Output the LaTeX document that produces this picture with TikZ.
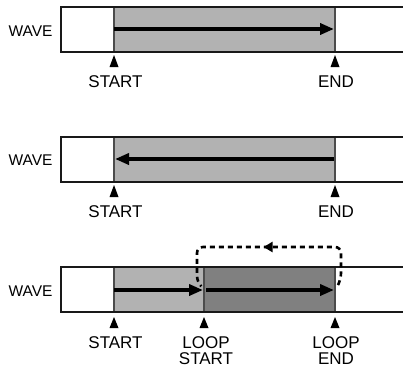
\documentclass[tikz,border=0pt]{standalone}
\usepackage{fontspec}
\setmainfont{Liberation Sans}
\usetikzlibrary{positioning, arrows.meta, decorations.markings}
\tikzset{
  wavebox/.style={draw=black!90, line width=2pt},
  divider/.style={draw=black!70, line width=1.2pt},
  flow/.style={line width=3.6pt, -{Triangle[length=14pt, width=11pt]}},
  loopline/.style={line width=2.6pt, dash pattern=on 5pt off 4pt, rounded corners=6pt,
    postaction={decorate}, decoration={markings,
      mark=at position 0.52 with {\arrow{Triangle[length=9pt, width=10pt]}}}},
  marker/.style={fill=black},
  lbl/.style={font=\fontsize{17}{16}\selectfont, align=center, inner sep=0pt},
  rowname/.style={font=\fontsize{15.5}{16}\selectfont, inner sep=0pt},
}

\begin{document}
\begin{tikzpicture}[x=1pt, y=-1pt]
  \useasboundingbox (0,0) rectangle (403,367);
  % forward play
  \fill[black!30] (114,7) rectangle (335,52);
  \draw[divider] (114,7) -- (114,52) (335,7) -- (335,52);
  \draw[wavebox] (403,7) -- (61,7) -- (61,52) -- (403,52);
  \node[rowname] (wave1) at (30.5,31) {WAVE};
  \coordinate (s1) at (114,29);
  \coordinate (e1) at (334,29);
  \draw[flow] (s1) -- (e1);
  \fill[marker] (114,55) -- (109.5,67) -- (118.5,67) -- cycle;
  \fill[marker] (335,55) -- (330.5,67) -- (339.5,67) -- cycle;
  \node[lbl] (start1) at (115.5,82) {START};
  \node[lbl] (end1) at (336,82) {END};

  % reverse play
  \fill[black!30] (114,137) rectangle (335,182);
  \draw[divider] (114,137) -- (114,182) (335,137) -- (335,182);
  \draw[wavebox] (403,137) -- (61,137) -- (61,182) -- (403,182);
  \node[rowname] (wave2) at (30.5,160) {WAVE};
  \coordinate (s2) at (115,159);
  \coordinate (e2) at (334,159);
  \draw[flow] (e2) -- (s2);
  \fill[marker] (114,185) -- (109.5,197) -- (118.5,197) -- cycle;
  \fill[marker] (335,185) -- (330.5,197) -- (339.5,197) -- cycle;
  \node[lbl] (start2) at (115.5,212) {START};
  \node[lbl] (end2) at (336,212) {END};

  % loop play
  \fill[black!30] (114,267) rectangle (204,312);
  \fill[black!50] (204,267) rectangle (335,312);
  \draw[divider] (114,267) -- (114,312) (204,267) -- (204,312) (335,267) -- (335,312);
  \draw[wavebox] (403,267) -- (61,267) -- (61,312) -- (403,312);
  \node[rowname] (wave3) at (30.5,291) {WAVE};
  \coordinate (s3) at (114,290);
  \coordinate (ls3) at (203,290);
  \coordinate (ls3b) at (206,290);
  \coordinate (le3) at (334,290);
  \draw[flow] (s3) -- (ls3);
  \draw[flow] (ls3b) -- (le3);
  \coordinate (back1) at (338,285);
  \coordinate (back2) at (201,286);
  \draw[loopline] (back1) -- (341,279) -- (341,247) -- (197,247) -- (197,282) -- (back2);
  \fill[marker] (114,317) -- (109.5,328) -- (118.5,328) -- cycle;
  \fill[marker] (204,317) -- (199.5,328) -- (208.5,328) -- cycle;
  \fill[marker] (335,317) -- (330.5,328) -- (339.5,328) -- cycle;
  \node[lbl, anchor=north] (start3) at (115.5,336.5) {START};
  \node[lbl, anchor=north] (lstart3) at (206,336.5) {LOOP\\START};
  \node[lbl, anchor=north] (lend3) at (336,336.5) {LOOP\\END};
\end{tikzpicture}
\end{document}
